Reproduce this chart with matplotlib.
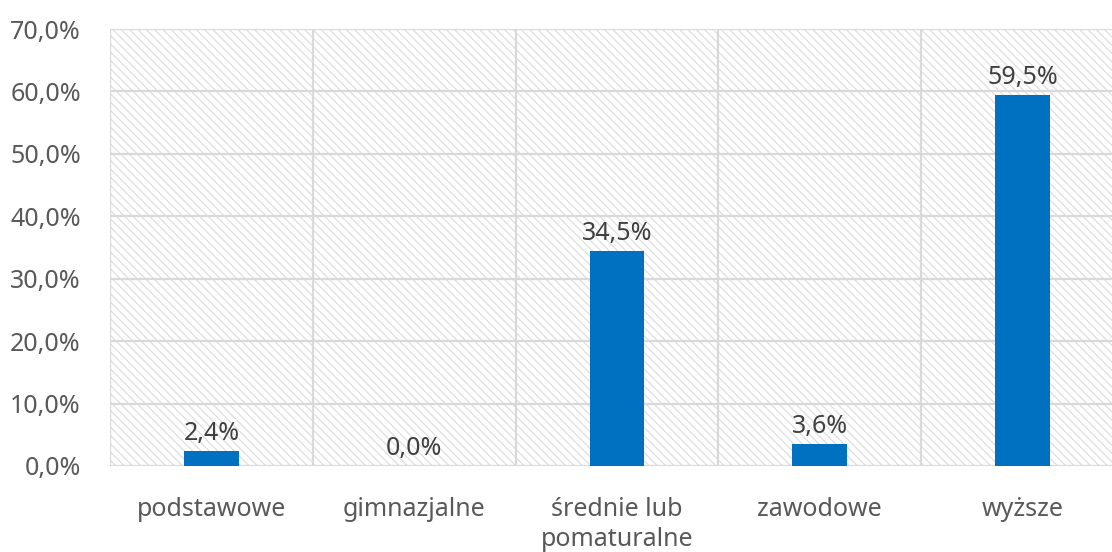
import matplotlib
matplotlib.use("Agg")
import matplotlib.pyplot as plt
from matplotlib.patches import Rectangle

categories = ["podstawowe", "gimnazjalne", "średnie lub\npomaturalne", "zawodowe", "wyższe"]
values = [2.4, 0.0, 34.5, 3.6, 59.5]
yticks = [0, 10, 20, 30, 40, 50, 60, 70]
ytick_labels = ["0,0%", "10,0%", "20,0%", "30,0%", "40,0%", "50,0%", "60,0%", "70,0%"]

plt.rcParams['font.family'] = ['Noto Sans', 'DejaVu Sans']
plt.rcParams['hatch.linewidth'] = 0.9

W, H = 1112, 552
fig = plt.figure(figsize=(W/100, H/100), dpi=100)
left, right, top, bottom = 110, 1124, 29, 466
ax = fig.add_axes([left/W, 1-bottom/H, (right-left)/W, (bottom-top)/H])

n = len(categories)
ax.set_xlim(-0.5, n-0.5)
ax.set_ylim(0, 70)

# hatched background
bg = Rectangle((0, 0), 1, 1, transform=ax.transAxes, facecolor='white',
               edgecolor='#dedede', linewidth=0, hatch='\\'*4, zorder=0)
ax.add_patch(bg)

# grid
for y in yticks[1:]:
    ax.axhline(y, color='#d9d9d9', lw=1.6, zorder=1)
for i in range(n+1):
    ax.axvline(i-0.5, color='#d9d9d9', lw=1.6, zorder=1)
ax.axhline(0, color='#d9d9d9', lw=1.6, zorder=1)

x = list(range(n))
ax.bar(x, values, width=0.27, color='#0070C0', zorder=3)
for xi, v in zip(x, values):
    ax.text(xi, v + 0.8, f"{v:.1f}%".replace('.', ','), ha='center', va='bottom',
            fontsize=18, color='#404040', zorder=4)

ax.set_xticks(x)
ax.set_xticklabels(categories, fontsize=18, color='#595959', linespacing=1.3)
ax.set_yticks(yticks)
ax.set_yticklabels(ytick_labels, fontsize=18, color='#595959')
ax.tick_params(axis='both', length=0)
ax.tick_params(axis='x', pad=22)
ax.tick_params(axis='y', pad=21)
for s in ax.spines.values():
    s.set_visible(False)

fig.savefig("out.png", dpi=100)
